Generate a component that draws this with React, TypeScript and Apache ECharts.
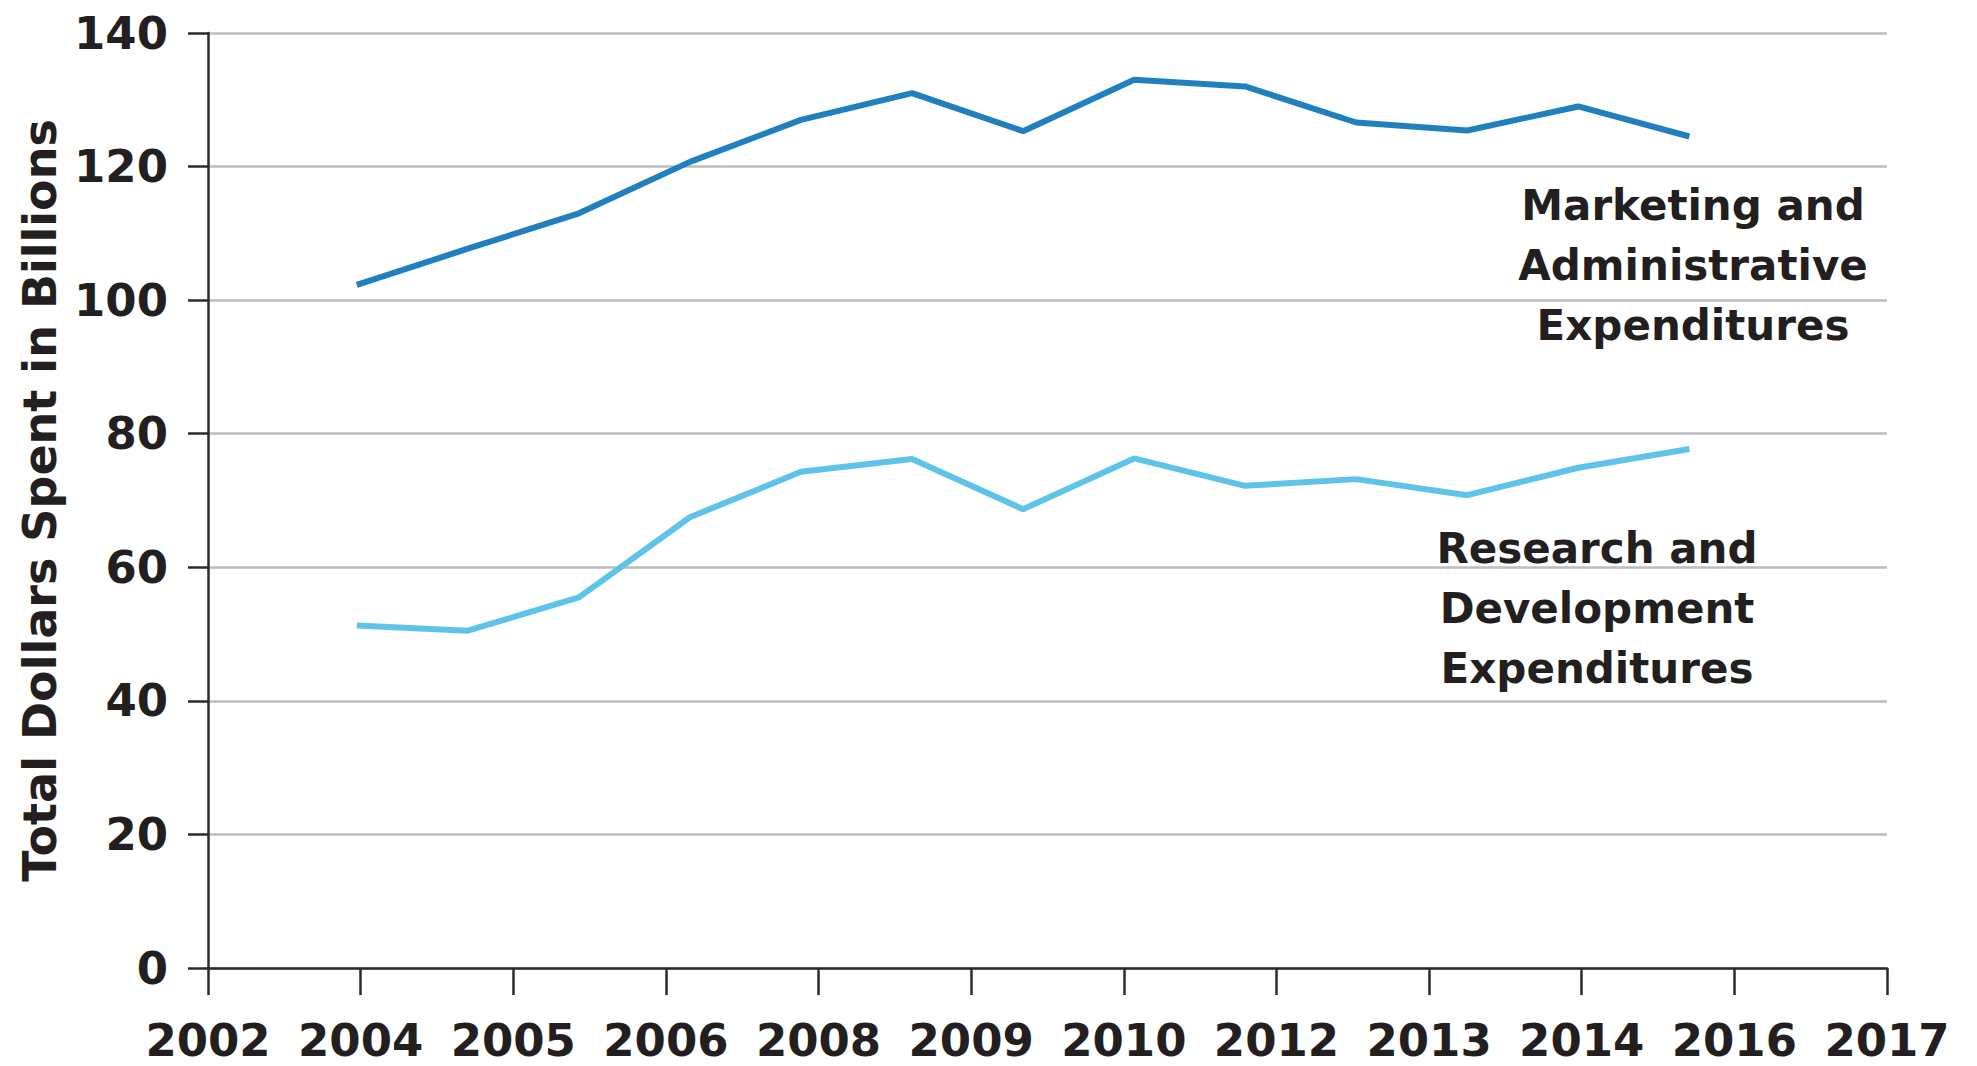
import React, { useEffect, useRef } from "react";
import * as echarts from "echarts";

const xLabels = ["2002", "2004", "2005", "2006", "2008", "2009", "2010", "2012", "2013", "2014", "2016", "2017"];
const dataYears = [2004, 2005, 2006, 2007, 2008, 2009, 2010, 2011, 2012, 2013, 2014, 2015, 2016];
const marketing = [102.3, 107.7, 113.0, 120.7, 127.0, 131.0, 125.3, 133.0, 132.0, 126.6, 125.4, 129.0, 124.5];
const research = [51.3, 50.5, 55.5, 67.5, 74.3, 76.2, 68.7, 76.3, 72.2, 73.2, 70.8, 74.9, 77.7];
const yTicks = [0, 20, 40, 60, 80, 100, 120, 140];

const FONT = "DejaVu Sans";
const TEXT = "#231f20";

export default function App() {
  const ref = useRef<HTMLDivElement>(null);
  useEffect(() => {
    if (!ref.current) return;
    const chart = echarts.init(ref.current, null, { renderer: "svg" });
    chart.setOption({
      animation: false,
      backgroundColor: "#ffffff",
      grid: { left: 208, right: 90, top: 33, bottom: 98, containLabel: false },
      xAxis: [
        {
          type: "category",
          data: xLabels,
          boundaryGap: false,
          axisLine: { show: true, lineStyle: { color: "#2b2b2b", width: 2.5 } },
          axisTick: { show: true, length: 27, lineStyle: { color: "#2b2b2b", width: 2.5 }, interval: 0 },
          axisLabel: { interval: 0, margin: 50, color: TEXT, fontFamily: FONT, fontWeight: "bold", fontSize: 45 },
          splitLine: { show: false },
        },
        {
          type: "value",
          min: 2002.66,
          max: 2017.78,
          show: false,
          splitLine: { show: false },
        },
      ],
      yAxis: {
        type: "value",
        min: yTicks[0],
        max: yTicks[yTicks.length - 1],
        interval: 20,
        name: "Total Dollars Spent in Billions",
        nameLocation: "middle",
        nameGap: 119,
        nameTextStyle: { color: TEXT, fontFamily: FONT, fontWeight: "bold", fontSize: 46 },
        axisLine: { show: true, lineStyle: { color: "#2b2b2b", width: 2.5 } },
        axisTick: { show: true, length: 20, lineStyle: { color: "#2b2b2b", width: 2.5 } },
        axisLabel: { margin: 40, color: TEXT, fontFamily: FONT, fontWeight: "bold", fontSize: 45 },
        splitLine: { show: true, lineStyle: { color: "#bdbdbd", width: 2.5 } },
      },
      series: [
        {
          name: "Marketing and Administrative Expenditures",
          type: "line",
          xAxisIndex: 1,
          data: dataYears.map((y, i) => [y, marketing[i]]),
          showSymbol: false,
          symbol: "none",
          lineStyle: { color: "#1f7fbf", width: 6 },
          z: 3,
        },
        {
          name: "Research and Development Expenditures",
          type: "line",
          xAxisIndex: 1,
          data: dataYears.map((y, i) => [y, research[i]]),
          showSymbol: false,
          symbol: "none",
          lineStyle: { color: "#5ec3e8", width: 6 },
          z: 3,
        },
      ],
      graphic: [
        {
          type: "text",
          x: 1693,
          y: 175,
          z: 10,
          style: {
            text: "Marketing and\nAdministrative\nExpenditures",
            fill: TEXT,
            font: `bold 42px "${FONT}"`,
            align: "center",
            verticalAlign: "top",
            lineHeight: 60,
          },
        },
        {
          type: "text",
          x: 1597,
          y: 518,
          z: 10,
          style: {
            text: "Research and\nDevelopment\nExpenditures",
            fill: TEXT,
            font: `bold 42px "${FONT}"`,
            align: "center",
            verticalAlign: "top",
            lineHeight: 60,
          },
        },
      ],
    });
    return () => chart.dispose();
  }, []);
  return (
    <div
      ref={ref}
      style={{ position: "fixed", left: 0, top: 0, width: 1977, height: 1066, background: "#fff" }}
    />
  );
}
